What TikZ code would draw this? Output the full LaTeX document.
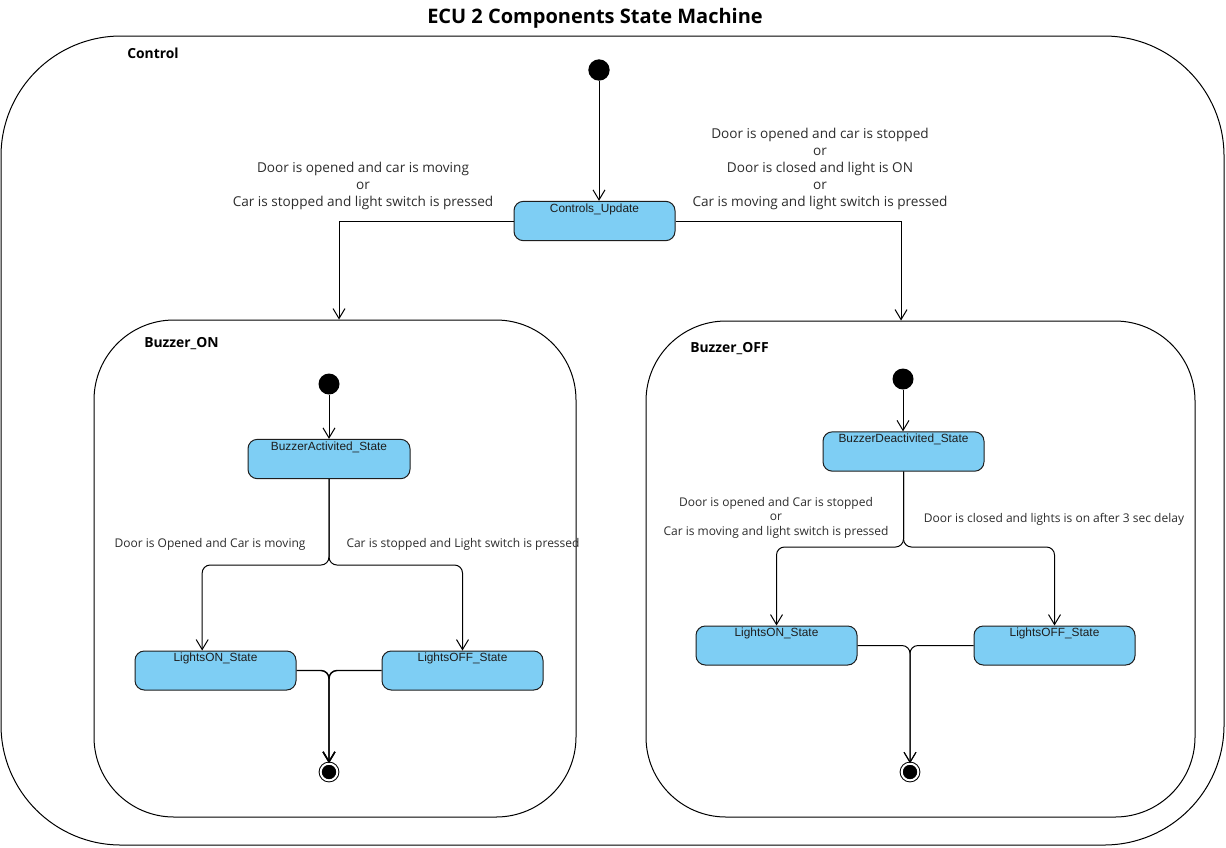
\documentclass[tikz,border=0pt]{standalone}
\usepackage{fontspec}
\setmainfont{Open Sans}
\newfontfamily\statefont{Liberation Sans}
\usetikzlibrary{arrows.meta}
\definecolor{stfill}{RGB}{126,206,244}
\definecolor{stline}{RGB}{30,30,30}
\definecolor{gtext}{RGB}{45,45,45}
\begin{document}
\begin{tikzpicture}[x=0.75pt,y=-0.75pt,
  every node/.style={inner sep=0pt},
  container/.style={draw=black, line width=0.75pt, fill=white},
  stbox/.style={draw=stline, fill=stfill, line width=0.75pt, rounded corners=7pt,
    minimum width=120.75pt, minimum height=29.5pt},
  stlabel/.style={font=\statefont\fontsize{8.9}{10}\selectfont, text=stline, anchor=north, yshift=-1.8pt},
  initst/.style={circle, fill=black, minimum size=16pt},
  finst/.style={circle, draw=black, fill=black, double=white, double distance=1.5pt,
    line width=0.75pt, minimum size=12.5pt},
  tr/.style={draw=black, line width=0.75pt, -{Straight Barb[length=7.5pt,width=9pt]}},
  guard/.style={font=\fontsize{10.2}{12.75}\selectfont, align=center, text=gtext},
  sguard/.style={font=\fontsize{9}{10.9}\selectfont, align=center, text=gtext},
  ctitle/.style={font=\bfseries\fontsize{10.4}{12}\selectfont, anchor=west},
]
\useasboundingbox (0,0) rectangle (1226,847);

% title
\node[font=\bfseries\fontsize{15}{17}\selectfont] (title) at (595,18) {ECU 2 Components State Machine};

% containers
\node[container, rounded corners=90pt, minimum width=917.25pt, minimum height=606.75pt] (control) at (612.5,440.5) {};
\node[container, rounded corners=60pt, minimum width=361.5pt, minimum height=372.75pt] (bon) at (335,568.5) {};
\node[container, rounded corners=60pt, minimum width=411.75pt, minimum height=372pt] (boff) at (920.5,569) {};

\node[ctitle] (lctrl) at (127,53) {Control};
\node[ctitle] (lbon) at (144,344) {Buzzer\_ON};
\node[ctitle] (lboff) at (690,349) {Buzzer\_OFF};

% control level
\node[initst] (i0) at (599,70) {};
\node[stbox, label={[stlabel]north:Controls\_Update}] (cu) at (594.5,221) {};
\draw[tr] (i0) -- (i0 |- cu.north);
\draw[tr] (cu.west) -| ([xshift=3pt]bon.north);
\draw[tr] (cu.east) -| ([xshift=-14.6pt]boff.north);

\node[guard] (g1) at (363,185.5) {Door is opened and car is moving\\or\\Car is stopped and light switch is pressed};
\node[guard] (g2) at (820,169) {Door is opened and car is stopped\\or\\Door is closed and light is ON\\or\\Car is moving and light switch is pressed};

% Buzzer_ON
\node[initst, minimum size=15.75pt] (i1) at (329,384) {};
\node[stbox, minimum width=121.5pt, label={[stlabel]north:BuzzerActivited\_State}] (bas) at (329,459) {};
\node[stbox, minimum height=29.25pt, label={[stlabel]north:LightsON\_State}] (lon1) at (215.5,670.5) {};
\node[stbox, minimum height=29.25pt, label={[stlabel]north:LightsOFF\_State}] (loff1) at (462.5,670.5) {};
\node[finst] (f1) at (329,772) {};
\coordinate (s1) at (329,565);
\draw[tr] (i1) -- (bas.north);
\draw[tr, rounded corners=6pt] (bas.south) -- (s1) -| ([xshift=-10pt]lon1.north);
\draw[tr, rounded corners=6pt] (bas.south) -- (s1) -| (loff1.north);
\draw[tr, line width=1.1pt, rounded corners=6pt] (lon1.east) -| (f1.north);
\draw[tr, line width=1.1pt, rounded corners=6pt] (loff1.west) -| (f1.north);
\node[sguard] (g3) at (210,544) {Door is Opened and Car is moving};
\node[sguard] (g4) at (463,544) {Car is stopped and Light switch is pressed};

% Buzzer_OFF
\node[initst, minimum size=15.75pt] (i2) at (903,379) {};
\node[stbox, label={[stlabel]north:BuzzerDeactivited\_State}] (bds) at (903.5,451.5) {};
\node[stbox, minimum height=29.25pt, label={[stlabel]north:LightsON\_State}] (lon2) at (776.5,645.5) {};
\node[stbox, minimum height=29.25pt, label={[stlabel]north:LightsOFF\_State}] (loff2) at (1054.5,645.5) {};
\node[finst] (f2) at (910,772) {};
\coordinate (s2) at (903.5,547);
\draw[tr] (i2) -- (i2 |- bds.north);
\draw[tr, rounded corners=6pt] (bds.south) -- (s2) -| (lon2.north);
\draw[tr, rounded corners=6pt] (bds.south) -- (s2) -| (loff2.north);
\draw[tr, rounded corners=6pt] (lon2.east) -| (f2.north);
\draw[tr, rounded corners=6pt] (loff2.west) -| (f2.north);
\node[sguard] (g5) at (776,517.5) {Door is opened and Car is stopped\\or\\Car is moving and light switch is pressed};
\node[sguard] (g6) at (1054,519) {Door is closed and lights is on after 3 sec delay};
\end{tikzpicture}
\end{document}
